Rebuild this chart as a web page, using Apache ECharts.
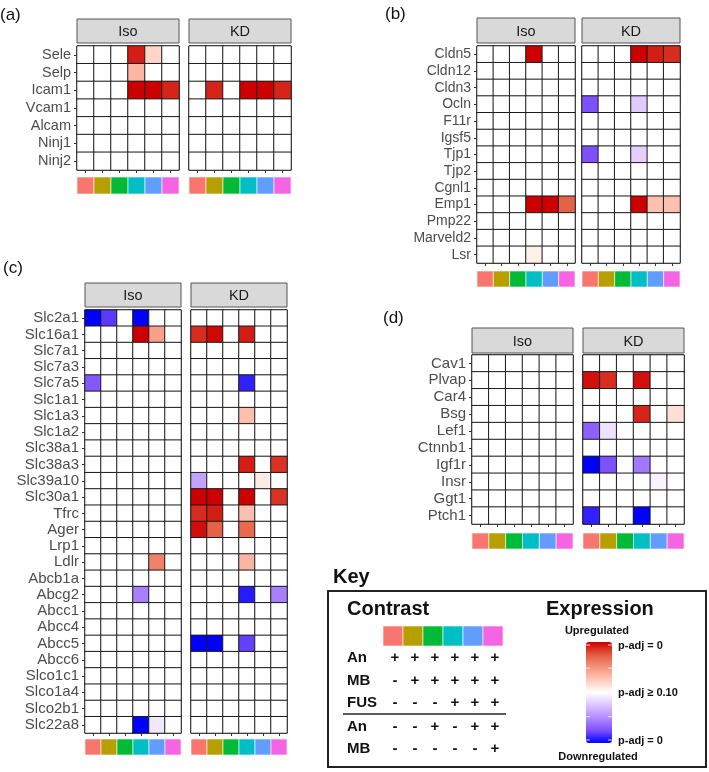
<!DOCTYPE html>
<html><head><meta charset="utf-8">
<script src="https://cdn.jsdelivr.net/npm/echarts/dist/echarts.min.js"></script>
<style>html,body{margin:0;padding:0;background:#fff}#c{width:709px;height:772px}</style>
</head><body><div id="c"></div>
<script>
// ---------- DATA ----------
const contrasts = ['C1','C2','C3','C4','C5','C6'];
const contrastColors = ['#F8766D','#B79F00','#00BA38','#00BFC4','#619CFF','#F564E3'];
const facets = ['Iso','KD'];

// signed expression score: +1 = upregulated p-adj 0, 0 = p-adj >= 0.10, -1 = downregulated p-adj 0
const genesA = ['Sele','Selp','Icam1','Vcam1','Alcam','Ninj1','Ninj2'];
const isoA = [
  [0,0,0,0.92,0.2,0],
  [0,0,0,0.35,0,0],
  [0,0,0,1,1,0.9],
  [0,0,0,0,0,0],
  [0,0,0,0,0,0],
  [0,0,0,0,0,0],
  [0,0,0,0,0,0]
];
const kdA = [
  [0,0,0,0,0,0],
  [0,0,0,0,0,0],
  [0,0.9,0,1,1,0.9],
  [0,0,0,0,0,0],
  [0,0,0,0,0,0],
  [0,0,0,0,0,0],
  [0,0,0,0,0,0]
];

const genesB = ['Cldn5','Cldn12','Cldn3','Ocln','F11r','Igsf5','Tjp1','Tjp2','Cgnl1','Emp1','Pmp22','Marveld2','Lsr'];
const isoB = [
  [0,0,0,1,0,0],
  [0,0,0,0,0,0],
  [0,0,0,0,0,0],
  [0,0,0,0,0,0],
  [0,0,0,0,0,0],
  [0,0,0,0,0,0],
  [0,0,0,0,0,0],
  [0,0,0,0,0,0],
  [0,0,0,0,0,0],
  [0,0,0,1,1,0.72],
  [0,0,0,0,0,0],
  [0,0,0,0,0,0],
  [0,0,0,0.07,0,0]
];
const kdB = [
  [0,0,0,1,0.92,0.88],
  [0,0,0,0,0,0],
  [0,0,0,0,0,0],
  [-0.75,0,0,-0.22,0,0],
  [0,0,0,0,0,0],
  [0,0,0,0,0,0],
  [-0.75,0,0,-0.2,0,0],
  [0,0,0,0,0,0],
  [0,0,0,0,0,0],
  [0,0,0,1,0.3,0.3],
  [0,0,0,0,0,0],
  [0,0,0,0,0,0],
  [0,0,0,0,0,0]
];

const genesC = ['Slc2a1','Slc16a1','Slc7a1','Slc7a3','Slc7a5','Slc1a1','Slc1a3','Slc1a2','Slc38a1','Slc38a3','Slc39a10','Slc30a1','Tfrc','Ager','Lrp1','Ldlr','Abcb1a','Abcg2','Abcc1','Abcc4','Abcc5','Abcc6','Slco1c1','Slco1a4','Slco2b1','Slc22a8'];
const isoC = [
  [-1,-0.82,0,-1,0,0],
  [0,0,0,1,0.45,0],
  [0,0,0,0,0,0],
  [0,0,0,0,0,0],
  [-0.72,0,0,0,0,0],
  [0,0,0,0,0,0],
  [0,0,0,0,0,0],
  [0,0,0,0,0,0],
  [0,0,0,0,0,0],
  [0,0,0,0,0,0],
  [0,0,0,0,0,0],
  [0,0,0,0,0,0],
  [0,0,0,0,0,0],
  [0,0,0,0,0,0],
  [0,0,0,0,0,0],
  [0,0,0,0,0.58,0],
  [0,0,0,0,0,0],
  [0,0,0,-0.55,0,0],
  [0,0,0,0,0,0],
  [0,0,0,0,0,0],
  [0,0,0,0,0,0],
  [0,0,0,0,0,0],
  [0,0,0,0,0,0],
  [0,0,0,0,0,0],
  [0,0,0,0,0,0],
  [0,0,0,-1,-0.1,0]
];
const kdC = [
  [0,0,0,0,0,0],
  [0.88,0.98,0,0.92,0,0],
  [0,0,0,0,0,0],
  [0,0,0,0,0,0],
  [0,0,0,-0.9,0,0],
  [0,0,0,0,0,0],
  [0,0,0,0.3,0,0],
  [0,0,0,0,0,0],
  [0,0,0,0,0,0],
  [0,0,0,0.92,0,0.86],
  [-0.4,0,0,0,0.1,0],
  [1,1,0,1,0,0.86],
  [0.88,0.92,0,0.3,0,0],
  [0.96,0.72,0,0.68,0,0],
  [0,0,0,0,0,0],
  [0,0,0,0.35,0,0],
  [0,0,0,0,0,0],
  [0,0,0,-0.92,0,-0.55],
  [0,0,0,0,0,0],
  [0,0,0,0,0,0],
  [-1,-1,0,-0.8,0,0],
  [0,0,0,0,0,0],
  [0,0,0,0,0,0],
  [0,0,0,0,0,0],
  [0,0,0,0,0,0],
  [0,0,0,0,0,0]
];

const genesD = ['Cav1','Plvap','Car4','Bsg','Lef1','Ctnnb1','Igf1r','Insr','Ggt1','Ptch1'];
const isoD = [
  [0,0,0,0,0,0],
  [0,0,0,0,0,0],
  [0,0,0,0,0,0],
  [0,0,0,0,0,0],
  [0,0,0,0,0,0],
  [0,0,0,0,0,0],
  [0,0,0,0,0,0],
  [0,0,0,0,0,0],
  [0,0,0,0,0,0],
  [0,0,0,0,0,0]
];
const kdD = [
  [0,0,0,0,0,0],
  [0.95,0.88,0,0.95,0,0],
  [0,0,0,0,0,0],
  [0,0,0,0.9,0,0.15],
  [-0.68,-0.12,0,0,0,0],
  [0,0,0,0,0,0],
  [-1,-0.75,0,-0.58,0,0],
  [0,0,0,0,0,-0.05].slice(0,6),
  [0,0,0,0,0,0],
  [-0.9,0,0,-1,0,0]
];
kdD[7] = [0,0,0,0,-0.05,0];

// key table
const keyRowLabels = ['An','MB','FUS','An','MB'];
const keySigns = [
  ['+','+','+','+','+','+'],
  ['-','+','+','+','+','+'],
  ['-','-','-','+','+','+'],
  ['-','-','+','-','+','+'],
  ['-','-','-','-','-','+']
];
const gradientColors = ['#0000FF','#7E51FF','#B38BFF','#DCC4FF','#FFFFFF','#FFCABC','#F6957D','#E25B3E','#CD0000'];

// ---------- LAYOUT ----------
const FONT = '"Liberation Sans", Arial, sans-serif';
const panels = [
  {tag:'(a)', tagX:0, tagY:7, genes:genesA, vals:[isoA,kdA], lefts:[77,189], w:102, top:46, h:124, stripTop:19, stripH:24, barTop:177, barH:17, fs:14.5},
  {tag:'(b)', tagX:385, tagY:6, genes:genesB, vals:[isoB,kdB], lefts:[477,582], w:98, top:46, h:217, stripTop:18, stripH:25, barTop:271, barH:16, fs:14},
  {tag:'(c)', tagX:3, tagY:260, genes:genesC, vals:[isoC,kdC], lefts:[85,191], w:96, top:310, h:423, stripTop:283, stripH:24, barTop:739, barH:16, fs:15},
  {tag:'(d)', tagX:383, tagY:310, genes:genesD, vals:[isoD,kdD], lefts:[472,583], w:101, top:355, h:169, stripTop:328, stripH:25, barTop:533, barH:16, fs:15}
];

const grid = [], xAxis = [], yAxis = [], series = [], graphic = [];
const heatIdx = [];

function colorBarSeries(gi) {
  return {
    type:'custom', xAxisIndex:gi, yAxisIndex:gi, silent:true,
    data: contrasts.map((c,i)=>[i,0]),
    renderItem: function(params, api){
      const i = api.value(0);
      const p = api.coord([i,0]);
      const s = api.size([1,1]);
      return {type:'rect', shape:{x:p[0]-s[0]/2, y:p[1]-s[1]/2, width:s[0], height:s[1]},
        style:{fill:contrastColors[i], stroke:'#fff', lineWidth:0.6}};
    }
  };
}
function colorBarAxes(gi){
  xAxis.push({type:'category', gridIndex:gi, data:contrasts, show:false});
  yAxis.push({type:'category', gridIndex:gi, data:['c'], show:false});
}

panels.forEach(p => {
  graphic.push({type:'text', x:p.tagX, y:p.tagY, style:{text:p.tag, font:'17px '+FONT, fill:'#111', textVerticalAlign:'top', verticalAlign:'top'}});
  facets.forEach((f, fi) => {
    const left = p.lefts[fi];
    // heatmap grid
    const gi = grid.length;
    grid.push({left:left, top:p.top, width:p.w, height:p.h, show:true, borderColor:'#333', borderWidth:1, backgroundColor:'#fff', outerBoundsMode:'none', containLabel:false});
    xAxis.push({type:'category', gridIndex:gi, data:contrasts, axisLabel:{show:false},
      axisLine:{show:false}, splitLine:{show:false},
      axisTick:{show:true, length:3, alignWithLabel:true, interval:0, lineStyle:{color:'#333'}}});
    yAxis.push({type:'category', gridIndex:gi, data:p.genes, inverse:true,
      axisLine:{show:false}, splitLine:{show:false},
      axisTick:{show:fi===0, length:3, alignWithLabel:true, interval:0, lineStyle:{color:'#333'}},
      axisLabel:{show:fi===0, interval:0, fontSize:p.fs, color:'#4D4D4D', fontFamily:FONT, margin:6}});
    const data = [];
    p.vals[fi].forEach((row, r) => row.forEach((v, c) => data.push([c, r, v])));
    heatIdx.push(series.length);
    series.push({type:'heatmap', xAxisIndex:gi, yAxisIndex:gi, data:data, silent:true,
      itemStyle:{borderColor:'#1a1a1a', borderWidth:1}, emphasis:{disabled:true}});
    // strip
    graphic.push({type:'rect', shape:{x:left, y:p.stripTop, width:p.w, height:p.stripH},
      style:{fill:'#D9D9D9', stroke:'#555', lineWidth:1}});
    graphic.push({type:'text', x:left+p.w/2, y:p.stripTop+p.stripH/2+1,
      style:{text:f, font:'14.5px '+FONT, fill:'#1a1a1a', textAlign:'center', align:'center', textVerticalAlign:'middle', verticalAlign:'middle'}});
    // contrast colour bar
    const bi = grid.length;
    grid.push({left:left, top:p.barTop, width:p.w, height:p.barH, show:false, outerBoundsMode:'none', containLabel:false});
    colorBarAxes(bi);
    series.push(colorBarSeries(bi));
  });
});

// ---------- KEY ----------
graphic.push({type:'text', x:333, y:567, style:{text:'Key', font:'bold 20px '+FONT, fill:'#111', textVerticalAlign:'top', verticalAlign:'top'}});
graphic.push({type:'rect', shape:{x:328, y:591, width:378, height:176}, style:{fill:'none', stroke:'#222', lineWidth:2}});
graphic.push({type:'text', x:347, y:599, style:{text:'Contrast', font:'bold 20px '+FONT, fill:'#111', textVerticalAlign:'top', verticalAlign:'top'}});
graphic.push({type:'text', x:546, y:599, style:{text:'Expression', font:'bold 20px '+FONT, fill:'#111', textVerticalAlign:'top', verticalAlign:'top'}});

// key colour bar via a grid
const kg = grid.length;
grid.push({left:383, top:626, width:120, height:20, show:false, outerBoundsMode:'none', containLabel:false});
colorBarAxes(kg);
series.push(colorBarSeries(kg));

const rowY = [658, 681, 703, 727, 749];
keyRowLabels.forEach((lab, r) => {
  graphic.push({type:'text', x:347, y:rowY[r], style:{text:lab, font:'bold 15px '+FONT, fill:'#111', textVerticalAlign:'middle', verticalAlign:'middle'}});
  keySigns[r].forEach((s, c) => {
    graphic.push({type:'text', x:383 + 10 + 20*c + 2, y:rowY[r], style:{text:s, font:'bold 15px '+FONT, fill:'#111', textAlign:'center', align:'center', textVerticalAlign:'middle', verticalAlign:'middle'}});
  });
});
graphic.push({type:'line', shape:{x1:343, y1:714, x2:506, y2:714}, style:{stroke:'#222', lineWidth:1.5}});

// expression legend texts
const gx = 586, gy = 642, gw = 26, gh = 101;
graphic.push({type:'text', x:597, y:631, style:{text:'Upregulated', font:'bold 11px '+FONT, fill:'#111', textAlign:'center', align:'center', textVerticalAlign:'middle', verticalAlign:'middle'}});
graphic.push({type:'text', x:598, y:757, style:{text:'Downregulated', font:'bold 11px '+FONT, fill:'#111', textAlign:'center', align:'center', textVerticalAlign:'middle', verticalAlign:'middle'}});
graphic.push({type:'text', x:618, y:646, style:{text:'p-adj = 0', font:'bold 11px '+FONT, fill:'#111', textVerticalAlign:'middle', verticalAlign:'middle'}});
graphic.push({type:'text', x:618, y:693, style:{text:'p-adj \u2265 0.10', font:'bold 11px '+FONT, fill:'#111', textVerticalAlign:'middle', verticalAlign:'middle'}});
graphic.push({type:'text', x:618, y:741, style:{text:'p-adj = 0', font:'bold 11px '+FONT, fill:'#111', textVerticalAlign:'middle', verticalAlign:'middle'}});
[0.03, 0.26, 0.74, 0.97].forEach(fr => {
  const y = gy + gh*fr;
  graphic.push({type:'line', z:100, shape:{x1:gx, y1:y, x2:gx+4, y2:y}, style:{stroke:'#fff', lineWidth:1, opacity:0.8}});
  graphic.push({type:'line', z:100, shape:{x1:gx+gw-4, y1:y, x2:gx+gw, y2:y}, style:{stroke:'#fff', lineWidth:1, opacity:0.8}});
});

const chart = echarts.init(document.getElementById('c'), null, {renderer:'canvas'});
chart.setOption({
  backgroundColor:'#fff',
  animation:false,
  grid, xAxis, yAxis, series,
  visualMap:{type:'continuous', min:-1, max:1, seriesIndex:heatIdx, show:true, calculable:false,
    left:gx, top:gy, itemWidth:gw, itemHeight:gh, padding:0, text:null, showLabel:false,
    inRange:{color:gradientColors}},
  graphic:{elements:graphic}
});
</script></body></html>
